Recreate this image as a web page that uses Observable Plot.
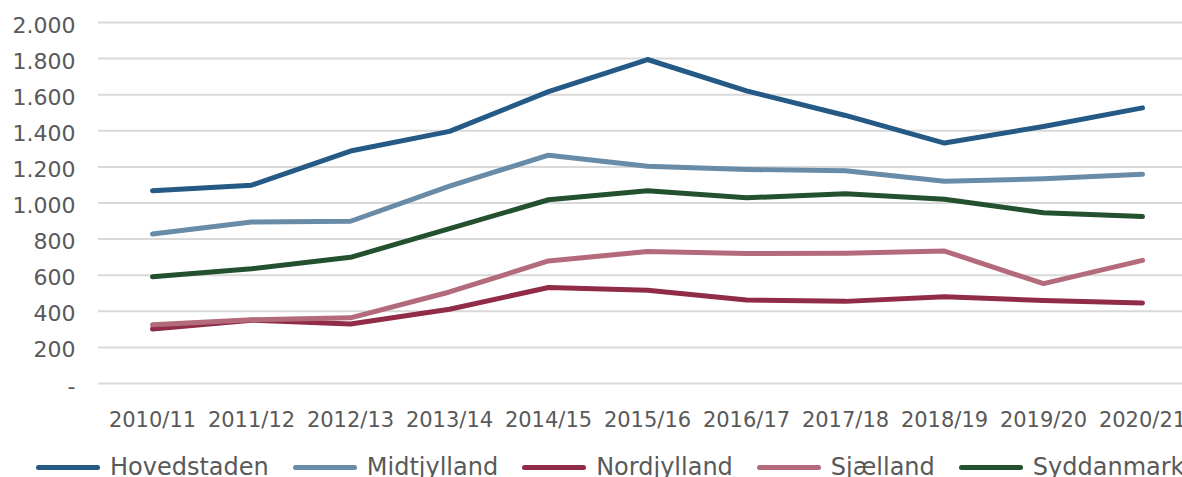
<!DOCTYPE html>
<html>
<head>
<meta charset="utf-8">
<script src="https://cdn.jsdelivr.net/npm/d3@7"></script>
<script src="https://cdn.jsdelivr.net/npm/@observablehq/plot@0.6"></script>
<style>
  html, body { margin: 0; padding: 0; background: #fff; overflow: hidden; }
  #chart svg { display: block; }
  .legend { display: flex; align-items: center; padding-top: 15px; height: 24px; line-height: 24px;
            font-family: "DejaVu Sans", sans-serif; font-size: 24px; color: #595959; white-space: nowrap; }
  .item { display: flex; align-items: center; margin-right: 24px; }
  .item:first-child { margin-left: 36px; }
  .sw { width: 64px; height: 5px; border-radius: 3px; margin-right: 10px; }
</style>
</head>
<body>
<div id="chart"></div>
<div class="legend" id="legend"></div>
<script>
const categories = ["2010/11","2011/12","2012/13","2013/14","2014/15","2015/16","2016/17","2017/18","2018/19","2019/20","2020/21"];
const seriesNames = ["Hovedstaden","Midtjylland","Nordjylland","Sjælland","Syddanmark"];
const hovedstaden = [1068, 1099, 1288, 1397, 1617, 1795, 1621, 1485, 1332, 1424, 1527];
const midtjylland = [828, 895, 899, 1094, 1265, 1204, 1186, 1179, 1120, 1134, 1159];
const nordjylland = [302, 351, 330, 411, 532, 517, 463, 455, 481, 460, 446];
const sjaelland = [325, 353, 364, 507, 679, 731, 720, 722, 734, 553, 682];
const syddanmark = [591, 636, 699, 858, 1018, 1068, 1029, 1051, 1021, 946, 925];
const yTicks = [0, 200, 400, 600, 800, 1000, 1200, 1400, 1600, 1800, 2000];
const colors = ["#245a85", "#688ba7", "#902c48", "#b36b7c", "#23502f"];

const seriesValues = [hovedstaden, midtjylland, nordjylland, sjaelland, syddanmark];
const data = seriesNames.flatMap((name, i) =>
  categories.map((c, j) => ({ series: name, period: c, value: seriesValues[i][j] })));

const fmt = d => d === 0 ? "-" : d3.format(",")(d).replace(/,/g, ".");

const chart = Plot.plot({
  width: 1182,
  height: 440,
  marginLeft: 98,
  marginRight: -13,
  marginTop: 22,
  marginBottom: 57,
  style: { fontFamily: "DejaVu Sans, sans-serif", color: "#595959", background: "#fff", maxWidth: "none", overflow: "hidden" },
  x: { type: "point", domain: categories, padding: 0.5 },
  y: { domain: [0, 2000] },
  color: { domain: seriesNames, range: colors },
  marks: [
    Plot.ruleY(yTicks, { stroke: "#d9d9d9", strokeWidth: 2 }),
    Plot.axisY({ ticks: yTicks, tickSize: 0, tickPadding: 23, tickFormat: fmt, fontSize: 22, dy: 3, label: null }),
    Plot.axisX({ tickSize: 0, tickPadding: 29, fontSize: 21, label: null }),
    Plot.lineY(data, { x: "period", y: "value", z: "series", stroke: "series", strokeWidth: 5,
                       strokeLinecap: "round", strokeLinejoin: "round" })
  ]
});
document.getElementById("chart").appendChild(chart);

const legend = document.getElementById("legend");
seriesNames.forEach((name, i) => {
  const item = document.createElement("div");
  item.className = "item";
  const sw = document.createElement("span");
  sw.className = "sw";
  sw.style.background = colors[i];
  const t = document.createElement("span");
  t.textContent = name;
  item.appendChild(sw);
  item.appendChild(t);
  legend.appendChild(item);
});
</script>
</body>
</html>
